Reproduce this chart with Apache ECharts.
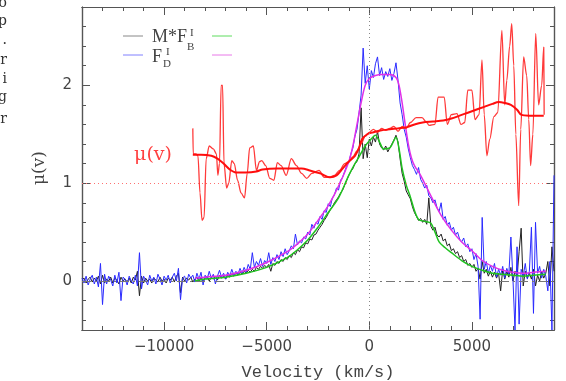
<!DOCTYPE html>
<html><head><meta charset="utf-8">
<script src="https://cdn.jsdelivr.net/npm/echarts@6/dist/echarts.min.js"></script>
<style>html,body{margin:0;padding:0;background:#fff}#c{width:566px;height:381px}</style>
</head><body><div id="c"></div>
<script>
// ---- data ----
const VSTART = -14000, VSTEP = 100; // sampling grid of the raw spectra (km/s)
// F_D^I raw (blue), one value per 100 km/s from -14000 to 9000
const fluxD = [
 0.03,-0.02,0.05,-0.04,0.02,0.06,-0.03,0.04,-0.06,0.18,
 -0.24,0.07,-0.03,0.05,0.01,-0.05,0.06,-0.02,0.09,-0.20,
 0.04,0.02,-0.04,0.05,0.00,-0.03,0.06,-0.05,0.29,-0.08,
 0.05,0.01,-0.04,0.06,0.00,0.04,-0.03,0.07,0.02,-0.04,
 0.05,0.01,0.06,-0.02,0.04,0.08,0.00,0.13,-0.19,0.03,
 0.05,-0.02,0.07,0.03,0.06,-0.01,0.08,0.02,0.09,-0.04,
 0.06,0.02,0.10,0.03,0.07,-0.03,0.05,0.11,0.04,0.08,
 0.02,0.09,0.05,0.12,0.06,0.10,0.07,0.13,0.08,0.14,
 0.09,0.17,0.12,0.29,0.14,0.20,0.16,0.23,0.15,0.21,
 0.18,0.29,0.17,0.24,0.20,0.27,0.22,0.30,0.25,0.33,
 0.27,0.31,0.36,0.33,0.48,0.37,0.41,0.39,0.45,0.43,
 0.50,0.47,0.58,0.54,0.60,0.58,0.66,0.63,0.72,0.70,
 0.79,0.76,0.85,0.88,0.95,0.93,1.03,1.06,1.12,1.18,
 1.21,1.30,1.36,1.48,1.55,1.72,1.90,2.38,2.02,2.20,
 1.96,2.15,2.08,2.22,2.29,2.10,2.18,2.06,2.14,2.09,
 2.17,2.05,2.12,2.23,2.05,1.82,1.70,1.55,1.47,1.35,
 1.26,1.18,1.14,1.09,1.16,1.04,1.00,0.95,0.98,0.87,
 0.85,0.80,0.83,0.75,0.71,0.80,0.63,0.66,0.57,0.60,
 0.52,0.55,0.47,0.50,0.43,0.40,0.44,0.35,0.38,0.30,
 0.33,0.22,0.28,0.15,-0.39,0.65,0.12,0.20,0.08,0.16,
 0.10,0.18,0.04,0.12,0.06,0.15,0.03,0.13,0.07,0.45,
 0.02,-0.50,0.35,-0.44,0.12,0.05,0.18,0.02,0.10,0.55,
 -0.33,0.60,0.08,0.15,0.03,0.12,0.05,-0.10,0.20,-0.50,
 1.08];
// M*F_B^I raw (black)
const fluxB = [
 0.01,0.03,-0.02,0.02,0.04,-0.01,0.03,0.00,0.05,-0.03,
 0.06,-0.02,0.02,0.00,0.04,-0.02,0.03,0.01,-0.03,0.04,
 0.00,0.02,-0.01,0.03,-0.02,0.04,0.01,0.10,-0.15,0.05,
 -0.02,0.03,0.00,0.02,-0.02,0.03,0.01,-0.01,0.04,0.00,
 0.02,-0.02,0.03,0.01,0.04,-0.01,0.05,0.08,-0.12,0.04,
 0.00,0.03,0.01,0.04,-0.01,0.02,0.04,0.00,0.03,-0.01,
 0.03,0.05,0.00,0.04,0.02,0.05,0.01,0.06,0.03,0.05,
 0.02,0.06,0.04,0.07,0.05,0.08,0.06,0.09,0.07,0.10,
 0.08,0.11,0.09,0.12,0.10,0.14,0.12,0.15,0.13,0.16,
 0.14,0.17,0.10,0.18,0.16,0.20,0.18,0.22,0.20,0.24,
 0.22,0.26,0.24,0.29,0.27,0.32,0.30,0.35,0.34,0.39,
 0.38,0.43,0.42,0.47,0.48,0.52,0.55,0.58,0.62,0.65,
 0.69,0.73,0.76,0.80,0.83,0.86,0.90,0.93,0.98,1.03,
 1.08,1.12,1.15,1.20,1.22,1.30,1.77,1.25,1.40,1.26,
 1.45,1.38,1.47,1.42,1.53,1.40,1.36,1.34,1.38,1.32,
 1.36,1.40,1.44,1.49,1.42,1.25,1.10,1.02,0.92,0.88,
 0.84,0.76,0.70,0.66,0.62,0.64,0.60,0.63,0.58,0.85,
 0.56,0.52,0.55,0.47,0.45,0.48,0.41,0.43,0.36,0.38,
 0.31,0.33,0.28,0.30,0.24,0.26,0.20,0.22,0.16,0.18,
 0.14,0.17,0.10,0.13,0.02,0.20,0.08,0.12,0.05,0.10,
 0.04,0.09,0.03,0.08,-0.10,0.12,0.02,0.10,0.04,0.14,
 0.00,0.10,0.05,0.30,0.54,-0.05,0.10,0.03,0.08,0.02,
 0.12,-0.05,0.06,0.00,0.10,0.03,0.08,0.20,-0.05,0.35,
 0.10];
// smoothed M*F_B^I (green)
const smoothBV = [-8500,-8000,-7000,-6000,-5000,-4000,-3500,-3000,-2500,-2000,-1500,-1000,-700,-500,-200,0,300,500,700,1000,1300,1450,1600,1800,2000,2200,2400,2700,3000,3200,3400,3700,4000,4500,5000,5500,6000,6500,7000,7500,8000,8600];
const smoothB  = [0.00,0.02,0.04,0.08,0.14,0.24,0.32,0.42,0.55,0.70,0.85,1.08,1.20,1.27,1.38,1.43,1.49,1.42,1.35,1.36,1.47,1.35,1.15,0.98,0.86,0.72,0.63,0.61,0.59,0.50,0.40,0.34,0.29,0.21,0.15,0.11,0.08,0.07,0.06,0.05,0.06,0.07];
// smoothed F_D^I (magenta)
const smoothDV = [-8500,-8000,-7000,-6000,-5000,-4000,-3500,-3000,-2500,-2000,-1500,-1000,-800,-600,-400,-200,0,300,600,1000,1300,1450,1600,1750,1900,2050,2200,2500,3000,3500,4000,4500,5000,5500,6000,6500,7000,7500,8000,8600];
const smoothD  = [0.03,0.04,0.06,0.11,0.19,0.30,0.38,0.48,0.62,0.77,0.97,1.22,1.38,1.60,1.82,2.00,2.07,2.10,2.11,2.11,2.08,2.00,1.82,1.60,1.40,1.26,1.18,1.08,0.87,0.67,0.52,0.40,0.31,0.21,0.15,0.11,0.09,0.08,0.09,0.10];
// mu(v) raw ratio (thin red)
const muRawV = [-8600,-8580,-8450,-8350,-8250,-8150,-8050,-7950,-7800,-7600,-7450,-7380,-7300,-7220,-7150,-7080,-6950,-6850,-6700,-6580,-6420,-6250,-6080,-5950,-5830,-5650,-5500,-5350,-5240,-5050,-4850,-4650,-4480,-4300,-4050,-3800,-3550,-3300,-3050,-2800,-2450,-2200,-1950,-1700,-1450,-1200,-1000,-800,-600,-400,-200,0,200,400,600,800,1000,1200,1400,1600,1800,2000,2280,2570,2800,2910,3200,3350,3650,3800,4000,4270,4470,4650,4800,5000,5150,5350,5490,5600,5730,5870,6070,6260,6460,6600,6700,6840,6940,7040,7140,7280,7380,7520,7670,7770,7860,7970,8110,8250,8400,8500,8520];
const muRaw  = [1.56,1.30,1.30,1.28,0.90,0.62,0.65,1.25,1.38,1.35,1.30,1.08,1.20,2.00,2.00,1.20,0.95,1.00,1.23,1.20,1.03,0.90,0.85,1.10,1.36,1.38,1.13,1.22,1.23,1.18,1.05,1.03,1.21,1.18,1.08,1.25,1.18,1.10,1.05,1.10,1.13,1.06,1.06,1.08,1.13,1.20,1.22,1.27,1.33,1.40,1.48,1.52,1.55,1.52,1.56,1.54,1.56,1.58,1.53,1.58,1.56,1.62,1.67,1.67,1.62,1.59,1.60,1.88,1.88,1.60,1.70,1.71,1.60,1.62,1.95,1.95,1.65,1.70,2.26,1.70,1.28,1.45,1.68,1.72,2.56,1.80,2.05,2.40,2.63,2.20,1.50,0.77,1.55,2.29,2.10,1.65,1.18,1.50,2.53,1.80,2.00,2.39,1.70];
// mu(v) smoothed (thick red)
const muV = [-8600,-8200,-7700,-7400,-7100,-6800,-6500,-6000,-5500,-5200,-4500,-3900,-3300,-2900,-2400,-1900,-1600,-1300,-1000,-700,-500,-350,-100,200,600,1000,1400,1800,2200,2600,3100,3600,4000,4400,4800,5200,5600,6000,6300,6600,6900,7200,7400,7800,8200,8500];
const mu  = [1.29,1.29,1.28,1.25,1.20,1.14,1.11,1.11,1.12,1.14,1.15,1.15,1.15,1.13,1.10,1.06,1.08,1.15,1.22,1.28,1.36,1.45,1.50,1.52,1.54,1.55,1.56,1.57,1.60,1.62,1.63,1.64,1.66,1.69,1.72,1.75,1.78,1.81,1.83,1.82,1.80,1.75,1.70,1.69,1.69,1.69];
// axis ticks
const xMajor = [-10000,-5000,0,5000];
const xMinor = [-13000,-12000,-11000,-10000,-9000,-8000,-7000,-6000,-5000,-4000,-3000,-2000,-1000,0,1000,2000,3000,4000,5000,6000,7000,8000];
const yMajor = [0,1,2];
const yMinor = [-0.4,-0.2,0,0.2,0.4,0.6,0.8,1,1.2,1.4,1.6,1.8,2,2.2,2.4,2.6];
const xLabels = ['\u221210000','\u22125000','0','5000'];
const yLabels = ['0','1','2'];

// ---- chart ----
const velocity = fluxD.map((_, i) => VSTART + i * VSTEP);
const pairs = (xs, ys) => xs.map((x, i) => [x, ys[i]]);
const AX = '#555';
const TXT = '#444';

function xAxis(pos, major, labels) {
  return {
    type: 'value', position: pos, min: -14000, max: 9000, interval: 1000,
    axisLine: { show: true, onZero: false, lineStyle: { color: AX, width: 1.2 } },
    axisTick: { show: true, inside: true, length: major ? 8 : 4, customValues: major ? xMajor : xMinor,
                lineStyle: { color: AX, width: 1 } },
    axisLabel: { show: labels, customValues: xMajor, margin: 10,
                 formatter: v => xLabels[xMajor.indexOf(v)] || '',
                 fontFamily: 'DejaVu Sans', fontSize: 15, color: TXT },
    splitLine: { show: false }
  };
}
function yAxis(pos, major, labels) {
  return {
    type: 'value', position: pos, min: -0.5, max: 2.8,
    axisLine: { show: true, onZero: false, lineStyle: { color: AX, width: 1.2 } },
    axisTick: { show: true, inside: true, length: major ? 8 : 4, customValues: major ? yMajor : yMinor,
                lineStyle: { color: AX, width: 1 } },
    axisLabel: { show: labels, customValues: yMajor, margin: 10,
                 formatter: v => yLabels[yMajor.indexOf(v)] || '',
                 fontFamily: 'DejaVu Sans', fontSize: 15, color: TXT },
    splitLine: { show: false }
  };
}

const chart = echarts.init(document.getElementById('c'), null, { renderer: 'canvas' });
const lineBase = { type: 'line', showSymbol: false, symbol: 'none', silent: true, clip: true, xAxisIndex: 0, yAxisIndex: 0 };

const leftLetters = [['o', 3], ['p', 21], ['.', 40], ['r', 60], ['i', 79], ['g', 97], ['r', 119]];

chart.setOption({
  animation: false,
  backgroundColor: '#fff',
  grid: { left: 82, right: 12, top: 7, bottom: 51, containLabel: false },
  xAxis: [xAxis('bottom', false, true), xAxis('bottom', true, false), xAxis('top', false, false), xAxis('top', true, false)],
  yAxis: [yAxis('left', false, true), yAxis('left', true, false), yAxis('right', false, false), yAxis('right', true, false)],
  series: [
    Object.assign({}, lineBase, {
      name: 'refs', data: [],
      markLine: {
        silent: true, symbol: 'none', label: { show: false }, animation: false,
        data: [
          { xAxis: 0, lineStyle: { color: '#888', type: [1, 3], width: 1 } },
          { yAxis: 1, lineStyle: { color: '#ff7070', type: [1, 3], width: 1 } },
          { yAxis: 0, lineStyle: { color: '#777', type: [9, 4, 2, 4], width: 1 } }
        ]
      }
    }),
    Object.assign({}, lineBase, { name: 'MFB', data: pairs(velocity, fluxB), lineStyle: { color: '#222', width: 1 } }),
    Object.assign({}, lineBase, { name: 'FD', data: pairs(velocity, fluxD), lineStyle: { color: '#2a2aff', width: 1 } }),
    Object.assign({}, lineBase, { name: 'MFBs', data: pairs(smoothBV, smoothB), smooth: 0.3, lineStyle: { color: '#1fc21f', width: 1.5 } }),
    Object.assign({}, lineBase, { name: 'FDs', data: pairs(smoothDV, smoothD), smooth: 0.3, lineStyle: { color: '#e030e8', width: 1.5 } }),
    Object.assign({}, lineBase, { name: 'muRaw', data: pairs(muRawV, muRaw), smooth: 0.3, smoothMonotone: 'x', lineStyle: { color: '#ff3a3a', width: 1.3 } }),
    Object.assign({}, lineBase, { name: 'mu', data: pairs(muV, mu), smooth: 0.3, lineStyle: { color: '#ff0d0d', width: 2 } })
  ],
  graphic: [
    // cropped text fragments at the far left edge
    ...leftLetters.map(([t, y]) => ({ type: 'text', x: 7, y: y, style: { text: t, align: 'right', verticalAlign: 'middle', font: '14px "DejaVu Serif"', fill: '#333' } })),
    // legend
    { type: 'line', shape: { x1: 123, y1: 36, x2: 143, y2: 36 }, style: { stroke: '#888', lineWidth: 1 } },
    { type: 'line', shape: { x1: 212, y1: 36, x2: 232, y2: 36 }, style: { stroke: '#5fdc5f', lineWidth: 1 } },
    { type: 'line', shape: { x1: 123, y1: 55, x2: 143, y2: 55 }, style: { stroke: '#8080ff', lineWidth: 1 } },
    { type: 'line', shape: { x1: 212, y1: 55, x2: 232, y2: 55 }, style: { stroke: '#e878e8', lineWidth: 1 } },
    { type: 'text', x: 152, y: 37, style: { text: 'M*F', verticalAlign: 'middle', font: '18px "Liberation Serif"', fill: TXT } },
    { type: 'text', x: 190, y: 33, style: { text: 'I', verticalAlign: 'middle', font: '11px "Liberation Serif"', fill: TXT } },
    { type: 'text', x: 187, y: 47, style: { text: 'B', verticalAlign: 'middle', font: '11px "Liberation Serif"', fill: TXT } },
    { type: 'text', x: 152, y: 57, style: { text: 'F', verticalAlign: 'middle', font: '18px "Liberation Serif"', fill: TXT } },
    { type: 'text', x: 166, y: 52, style: { text: 'I', verticalAlign: 'middle', font: '11px "Liberation Serif"', fill: TXT } },
    { type: 'text', x: 163, y: 64, style: { text: 'D', verticalAlign: 'middle', font: '11px "Liberation Serif"', fill: TXT } },
    // mu(v) annotation
    { type: 'text', x: 153, y: 155, style: { text: '\u03bc(v)', align: 'center', verticalAlign: 'middle', font: '19px "DejaVu Serif"', fill: '#ff4040' } },
    // axis titles
    { type: 'text', x: 40, y: 168, rotation: Math.PI / 2, style: { text: '\u03bc(v)', align: 'center', verticalAlign: 'middle', font: '17px "DejaVu Serif"', fill: TXT } },
    { type: 'text', x: 318, y: 372, style: { text: 'Velocity (km/s)', align: 'center', verticalAlign: 'middle', font: '17px "Liberation Mono"', fill: TXT } }
  ]
});
</script></body></html>
